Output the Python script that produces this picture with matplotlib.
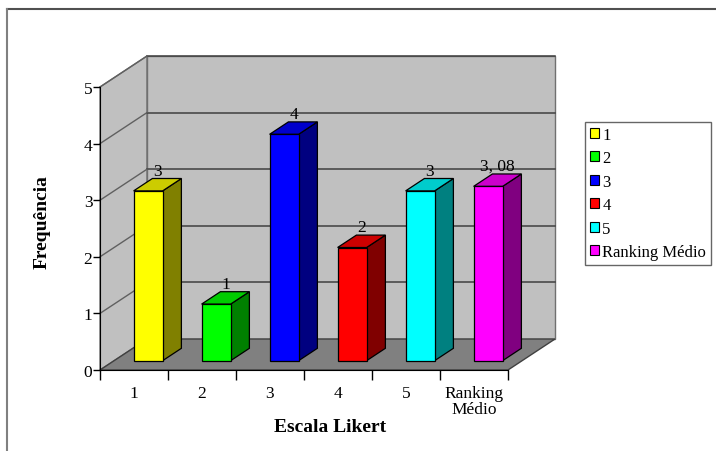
import matplotlib
matplotlib.use("Agg")
import matplotlib.pyplot as plt
from matplotlib.patches import Polygon, Patch
from matplotlib.lines import Line2D

plt.rcParams['font.family'] = ['Liberation Serif', 'DejaVu Serif']

# Data
categories = ["1", "2", "3", "4", "5", "Ranking\nMédio"]
legend_labels = ["1", "2", "3", "4", "5", "Ranking Médio"]
values = [3, 1, 4, 2, 3, 3.08]
y_ticks = [0, 1, 2, 3, 4, 5]

front_colors = ["#FFFF00", "#00FF00", "#0000FF", "#FF0000", "#00FFFF", "#FF00FF"]
top_colors = ["#CCCC00", "#00CC00", "#0000CC", "#CC0000", "#00CCCC", "#CC00CC"]
side_colors = ["#808000", "#008000", "#000080", "#800000", "#008080", "#800080"]

W, H = 716, 452
fig = plt.figure(figsize=(W / 100, H / 100), dpi=100)
ax = fig.add_axes([100 / W, 81 / H, 408 / W, 283 / H])
n = len(values)
ax.set_xlim(0, n)
ax.set_ylim(0, 5)

# Oblique depth vector (pixels) converted to data units
depth_px = (47, 31)
px_x = ax.bbox.width / n
px_y = ax.bbox.height / 5
DX = depth_px[0] / px_x
DY = depth_px[1] / px_y

wall = "#C0C0C0"
floor = "#808080"
edge = "#707070"

# Side wall, back wall and floor
ax.add_patch(Polygon([(0, 0), (0, 5), (DX, 5 + DY), (DX, DY)], closed=True,
                     facecolor=wall, edgecolor=edge, lw=1, clip_on=False, zorder=1))
ax.add_patch(Polygon([(DX, DY), (DX, 5 + DY), (n + DX, 5 + DY), (n + DX, DY)], closed=True,
                     facecolor=wall, edgecolor=edge, lw=1, clip_on=False, zorder=1))
ax.add_patch(Polygon([(0, 0), (n, 0), (n + DX, DY), (DX, DY)], closed=True,
                     facecolor=floor, edgecolor="#404040", lw=1, clip_on=False, zorder=2))

# Gridlines on the walls
for v in y_ticks[1:]:
    ax.plot([DX, n + DX], [v + DY, v + DY], color="#404040", lw=1.1,
            clip_on=False, zorder=1.5)
    ax.plot([0, DX], [v, v + DY], color="#606060", lw=1,
            clip_on=False, zorder=1.5)

# 3D bars
hw = 14.5 / px_x
f, b = 0.3, 0.7
for i, v in enumerate(values):
    xc = i + 0.5
    x0, x1 = xc - hw, xc + hw
    front = [(x0 + f * DX, f * DY), (x1 + f * DX, f * DY),
             (x1 + f * DX, v + f * DY), (x0 + f * DX, v + f * DY)]
    top = [(x0 + f * DX, v + f * DY), (x1 + f * DX, v + f * DY),
           (x1 + b * DX, v + b * DY), (x0 + b * DX, v + b * DY)]
    side = [(x1 + f * DX, f * DY), (x1 + f * DX, v + f * DY),
            (x1 + b * DX, v + b * DY), (x1 + b * DX, b * DY)]
    for poly, col in ((side, side_colors[i]), (top, top_colors[i]), (front, front_colors[i])):
        ax.add_patch(Polygon(poly, closed=True, facecolor=col, edgecolor="black",
                             lw=0.9, clip_on=False, zorder=3, joinstyle="miter"))
    label = f"{v:g}".replace(".", ", ")
    ax.annotate(label, xy=(xc + (f + b) / 2 * DX, v + b * DY), xytext=(0, 0),
                textcoords="offset points", ha="center", va="bottom",
                fontsize=12.5, color="black", zorder=4, annotation_clip=False)

# Axes styling
for s in ("top", "right"):
    ax.spines[s].set_visible(False)
ax.spines["left"].set_color("black")
ax.spines["bottom"].set_color("black")
ax.spines["left"].set_zorder(2.5)
ax.spines["bottom"].set_zorder(2.5)
ax.patch.set_visible(False)

ax.set_yticks(y_ticks)
ax.set_yticklabels([str(t) for t in y_ticks])
ax.tick_params(axis="y", direction="out", length=5, width=1, pad=0.5, labelsize=12.5)

ax.set_xticks(range(n + 1))
ax.set_xticklabels([])
ax.set_xticks([i + 0.5 for i in range(n)], minor=True)
ax.set_xticklabels(categories, minor=True)
ax.tick_params(axis="x", which="major", direction="out", length=7, width=1)
ax.tick_params(axis="x", which="minor", length=0, pad=10.5, labelsize=12.5)
for t in ax.get_xticklabels(minor=True):
    t.set_linespacing(1.05)

fig.text(42 / W, 1 - 222 / H, "Frequência", rotation=90, ha="center", va="center",
         fontsize=14, fontweight="bold")
fig.text(330 / W, 1 - 428 / H, "Escala Likert", ha="center", va="center",
         fontsize=14, fontweight="bold")

# Legend
handles = [Patch(facecolor=c, edgecolor="black", lw=0.8) for c in front_colors]
leg = fig.legend(handles, legend_labels, loc="upper left",
                 bbox_to_anchor=(585 / W, 1 - 123 / H), fontsize=12,
                 frameon=True, fancybox=False, edgecolor="#404040",
                 handlelength=0.55, handleheight=0.55, handletextpad=0.2,
                 labelspacing=0.45, borderpad=0.28, borderaxespad=0)
leg.get_frame().set_linewidth(1)

# Outer chart frame
fig.add_artist(Line2D([6.5 / W, 1], [1 - 9.5 / H, 1 - 9.5 / H],
                      transform=fig.transFigure, color="#505050", lw=1.5))
fig.add_artist(Line2D([6.5 / W, 6.5 / W], [1 - 9.5 / H, 0],
                      transform=fig.transFigure, color="#808080", lw=1.5))

fig.savefig("out.png", dpi=100, facecolor="white")
